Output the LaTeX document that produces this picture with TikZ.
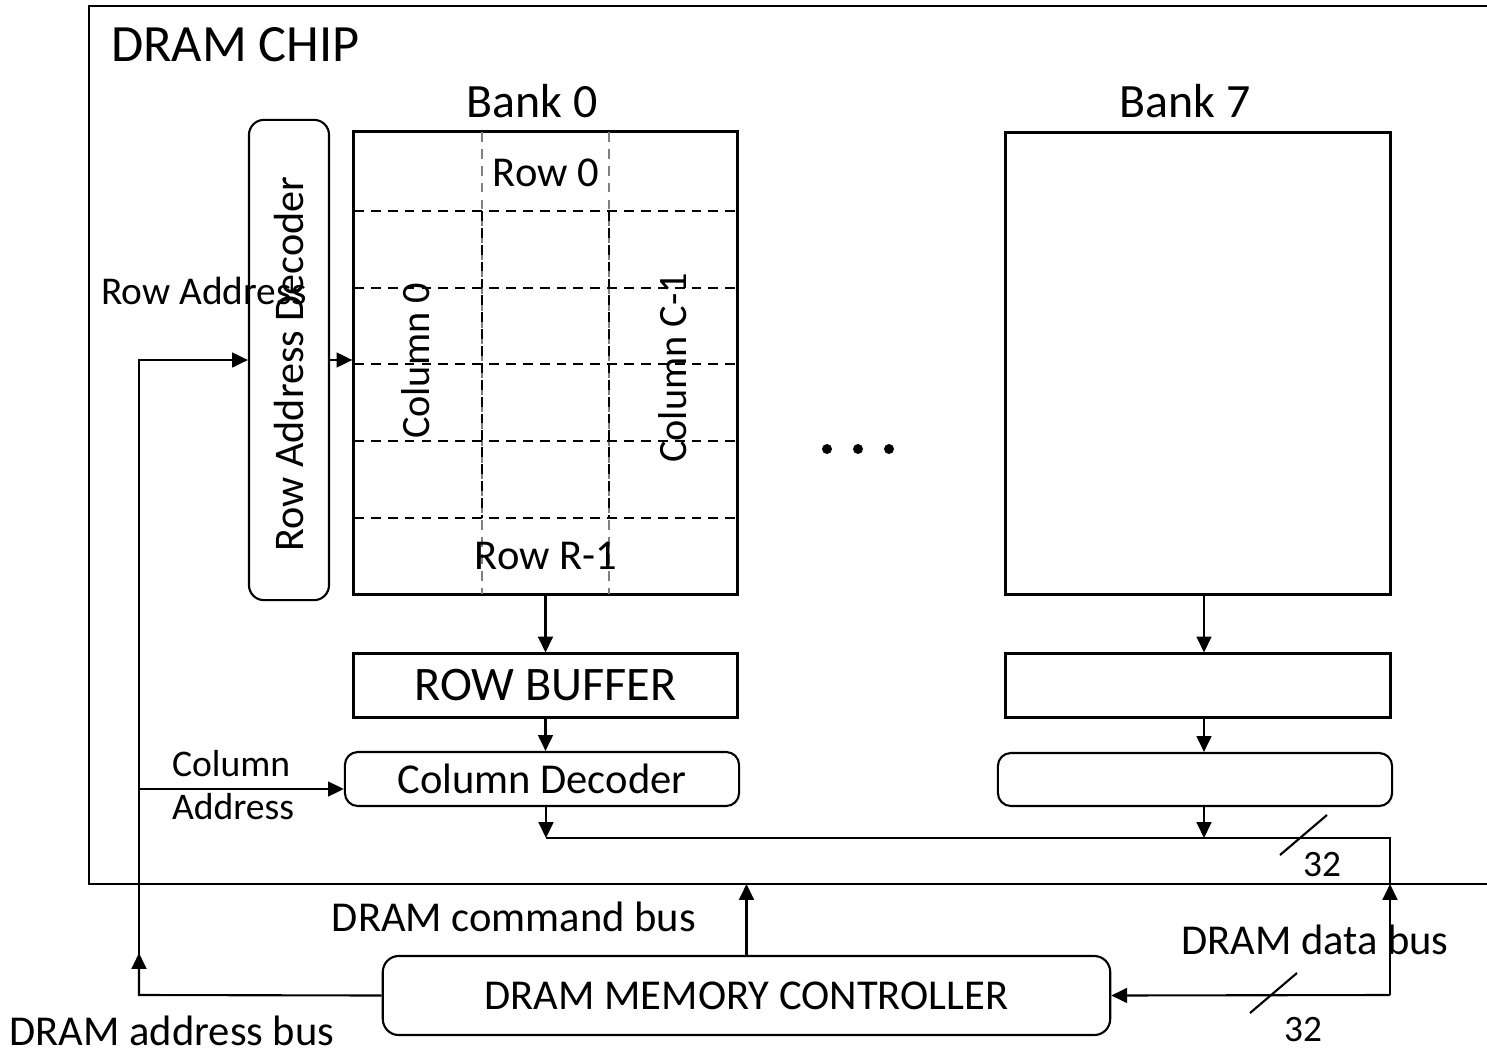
\documentclass[tikz,border=0pt]{standalone}
\usepackage{fontspec}
\setmainfont{Carlito}
\usetikzlibrary{arrows.meta,calc,positioning}

\begin{document}
\begin{tikzpicture}[x=0.01cm, y=-0.01cm, >={Triangle[length=4.5pt, width=4.2pt]}, line width=0.6pt,
  bank/.style={draw, line width=0.85pt, inner sep=0pt},
  rbox/.style={draw, rounded corners=0.13cm, line width=0.6pt, inner sep=0pt},
  grid/.style={dashed, dash pattern=on 2.8pt off 2pt, line width=0.7pt},
  fbig/.style={font=\fontsize{14.9}{17}\selectfont},
  fbank/.style={font=\fontsize{13.6}{16}\selectfont},
  fbuf/.style={font=\fontsize{13.7}{16}\selectfont},
  fnorm/.style={font=\fontsize{12.1}{14}\selectfont},
  fcol/.style={font=\fontsize{11.45}{13}\selectfont},
  fdec/.style={font=\fontsize{12}{14}\selectfont},
  fraddr/.style={font=\fontsize{11.2}{13}\selectfont},
  fwidth/.style={font=\fontsize{10.6}{12}\selectfont},
  fsmall/.style={font=\fontsize{10.7}{12.2}\selectfont}]
\useasboundingbox (0,0) rectangle (1487,1054);
\draw (1487,6) -- (89,6) -- (89,884) -- (1487,884);
\node[fbig, anchor=west, inner sep=0pt] (chip) at (110,45) {DRAM CHIP};
\node[bank, minimum width=3.83cm, minimum height=4.62cm] (bank0) at (545.5,363) {};
\node[bank, minimum width=3.84cm, minimum height=4.61cm] (bank7) at (1198,363.5) {};
\node[fbank] (b0lbl) at (532,101) {Bank 0};
\node[fbank] (b7lbl) at (1185,101) {Bank 7};
\foreach \x in {482,609} {
  \draw[grid, gray] (\x,132) -- (\x,594);
  \draw[grid] (\x,211) -- (\x,518);
}
\foreach \y in {211,288,364,441,518}
  \draw[grid] (354,\y) -- (737,\y);
\node[fnorm] (row0) at (546,173) {Row 0};
\node[fnorm] (rowR) at (546,556) {Row R-1};
\node[fcol, rotate=90] (col0) at (416,361) {Column 0};
\node[fcol, rotate=90] (colC) at (673,368) {Column C-1};
\node[rbox, rounded corners=0.15cm, minimum width=0.80cm, minimum height=4.80cm] (rowdec) at (289,360) {};
\node[fdec, rotate=90] (rowdeclbl) at (289,364) {Row Address Decoder};
\node[fraddr, anchor=west, inner sep=0pt] (rowaddr) at (100,291) {Row Address};
\node[bank, fbuf, minimum width=3.83cm, minimum height=0.63cm] (rowbuf0) at (545.5,685.5) {ROW BUFFER};
\node[bank, minimum width=3.84cm, minimum height=0.63cm] (rowbuf7) at (1198,685.5) {};
\node[rbox, fnorm, minimum width=3.94cm, minimum height=0.54cm] (coldec0) at (542,779) {Column Decoder};
\node[rbox, minimum width=3.94cm, minimum height=0.53cm] (coldec7) at (1195,779.5) {};
\node[fsmall, anchor=west, align=left, inner sep=0pt] (coladdr) at (171,785) {Column\\Address};
\foreach \x in {827,858,889}
  \fill (\x,449) circle (5);
\node[rbox, rounded corners=0.16cm, fnorm, minimum width=7.27cm, minimum height=0.79cm] (mc) at (746.5,995.5) {DRAM MEMORY CONTROLLER};
\node[fnorm] (cmdlbl) at (514,917) {DRAM command bus};
\node[fnorm] (datalbl) at (1315,940) {DRAM data bus};
\node[fnorm] (addrlbl) at (172,1031) {DRAM address bus};
\node[fwidth] (w32a) at (1322,865) {32};
\node[fwidth] (w32b) at (1303,1030) {32};
\coordinate (bus0) at (546,838);
\coordinate (bus7) at (1204,838);
\coordinate (busR) at (1390,838);
\coordinate (dtop) at (1390,884);
\coordinate (dbot) at (1390,995);
\coordinate (ctop) at (746.5,884);
\coordinate (addr) at (139,995);
\coordinate (caddr) at (139,789);
\draw[->] (bank0.south) -- (rowbuf0.north);
\draw[->] (rowbuf0.south) -- (rowbuf0.south |- coldec0.north);
\draw[->] (bank7.south -| bus7) -- (bus7 |- rowbuf7.north);
\draw[->] (rowbuf7.south -| bus7) -- (bus7 |- coldec7.north);
\draw[->] (coldec0.south -| bus0) -- (bus0);
\draw[->] (coldec7.south -| bus7) -- (bus7);
\draw (bus0) -- (busR) -- (dtop);
\draw[->] (dbot) -- (dtop);
\draw[->] (dbot) -- (mc.east);
\draw (1280,855) -- (1327,815);
\draw (1250,1013) -- (1297,973);
\draw[->] (mc.north) -- (ctop);
\draw[->] (mc.west) -- (addr) -- ++(0,-42);
\draw[->] (addr) |- (rowdec.west);
\draw[->] (rowdec.east) -- (rowdec.east -| bank0.west);
\draw[->] (caddr) -- (caddr -| coldec0.west);
\end{tikzpicture}
\end{document}
